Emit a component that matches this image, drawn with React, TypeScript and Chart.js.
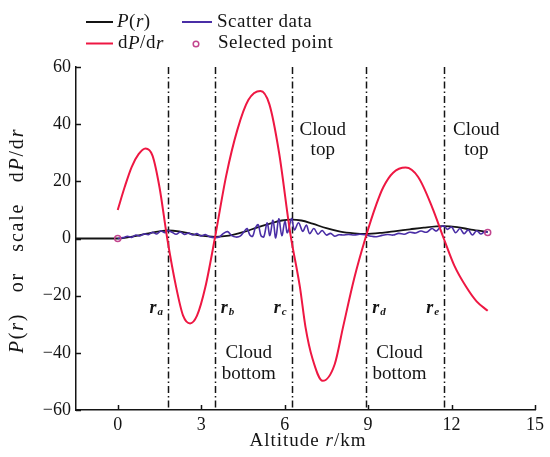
import React, { useEffect, useRef } from 'react';
import { Chart, registerables } from 'chart.js';

Chart.register(...registerables);

// ---- data ----
const xTicks = [0, 3, 6, 9, 12, 15];
const yTicks = [-60, -40, -20, 0, 20, 40, 60];

// P(r)
const pX = [-1.5, -1.0, -0.5, 0, 0.4, 0.8, 1.2, 1.5, 1.8, 2.2, 2.6, 3.0, 3.5, 4.0, 4.5, 5.0, 5.5, 5.9, 6.25, 6.6, 7.0, 7.5, 8.0, 8.5, 8.9, 9.5, 10.0, 10.5, 11.0, 11.7, 12.2, 12.7, 13.3];
const pY = [0, 0, 0, 0, 0.5, 1.2, 2.0, 2.5, 2.8, 2.5, 1.7, 1.0, 0.6, 1.0, 2.2, 3.8, 5.3, 6.3, 6.6, 6.3, 5.2, 3.6, 2.4, 1.8, 1.6, 2.0, 2.6, 3.2, 3.8, 4.3, 4.0, 3.1, 2.3];

// dP/dr (scaled)
const dX = [0, 0.25, 0.5, 0.75, 1.0, 1.25, 1.5, 1.78, 2.1, 2.35, 2.6, 2.85, 3.15, 3.49, 3.9, 4.3, 4.7, 5.13, 5.45, 5.8, 6.2, 6.55, 6.75, 7.0, 7.37, 7.8, 8.1, 8.5, 8.9, 9.3, 9.55, 9.9, 10.35, 10.8, 11.3, 11.72, 12.1, 12.53, 12.9, 13.3];
const dY = [10, 18, 25, 29.5, 31.5, 29, 18, 0, -17, -27, -29.7, -27, -17, 0, 22, 38, 48.5, 51.6, 47, 30, 2, -17, -31, -42, -49.8, -44, -31, -14, 0, 12, 18, 23, 24.8, 21.5, 11, 0, -9.5, -17, -22, -25.3];

// Scatter data
const sX = [0.0, 0.2, 0.35, 0.5, 0.65, 0.8, 0.95, 1.1, 1.25, 1.4, 1.55, 1.7, 1.8, 1.95, 2.1, 2.25, 2.4, 2.55, 2.7, 2.85, 3.0, 3.15, 3.3, 3.5, 3.65, 3.8, 3.95, 4.1, 4.25, 4.4, 4.55, 4.65, 4.75, 4.85, 4.95, 5.05, 5.15, 5.25, 5.37, 5.47, 5.58, 5.68, 5.79, 5.9, 6.01, 6.1, 6.25, 6.35, 6.5, 6.65, 6.78, 6.9, 7.05, 7.2, 7.35, 7.5, 7.65, 7.8, 7.95, 8.1, 8.3, 8.5, 8.7, 8.9, 9.1, 9.3, 9.5, 9.7, 9.9, 10.1, 10.3, 10.5, 10.7, 10.9, 11.1, 11.3, 11.45, 11.6, 11.73, 11.85, 12.0, 12.15, 12.3, 12.45, 12.6, 12.75, 12.9, 13.05, 13.2, 13.3];
const sY = [0, 0.3, 0.8, 0.4, 1.2, 0.9, 1.6, 1.3, 2.2, 1.6, 2.6, 2.0, 2.8, 2.2, 1.5, 2.3, 1.4, 1.9, 1.2, 1.7, 0.9, 1.4, 0.6, 0.3, 0.5, 1.8, 2.4, 1.0, 0.5, 0.8, 2.5, 3.5, 1.2, 0.8, 3.8, 4.8, 1.0, 0.6, 5.5, 1.0, 6.4, 0.2, 6.9, 1.0, 6.0, 2.0, 7.0, 3.0, 5.5, 2.5, 4.7, 1.7, 3.5, 1.5, 2.8, 1.2, 1.8, 0.8, 1.3, 1.2, 1.4, 1.2, 1.5, 1.3, 0.8, 0.6, 1.1, 1.4, 1.2, 1.8, 1.5, 2.2, 1.9, 2.6, 2.2, 3.5, 2.6, 4.0, 4.4, 3.2, 4.0, 2.0, 3.5, 1.7, 3.0, 1.2, 2.7, 1.6, 2.4, 2.1];

// Selected points
const selX = [0, 13.3];
const selY = [0, 2.1];

// Boundaries r_a ... r_e
const boundaryX = [1.81, 3.49, 6.25, 8.93, 11.73];
const boundarySub = ['a', 'b', 'c', 'd', 'e'];
const boundaryLabelY = -24.4;

// Region labels
const regionLine1 = ['Cloud', 'Cloud', 'Cloud', 'Cloud'];
const regionLine2 = ['bottom', 'top', 'bottom', 'top'];
const regionX = [4.71, 7.37, 10.13, 12.89];
const regionY = [-40.1, 38.1, -40.1, 38.1];

const SERIF = '"Liberation Serif", "Times New Roman", Times, serif';
const RED = '#ee1742';
const PURPLE = '#4a2ea6';
const BLACK = '#141414';
const MAGENTA = '#c2458e';

type Run = [string, string];

function runsWidth(ctx: CanvasRenderingContext2D, runs: Run[]) {
  let w = 0;
  for (const [t, f] of runs) {
    ctx.font = f;
    w += ctx.measureText(t).width;
  }
  return w;
}

function drawRuns(ctx: CanvasRenderingContext2D, runs: Run[], x: number, y: number, center: boolean) {
  let cx = center ? x - runsWidth(ctx, runs) / 2 : x;
  ctx.textAlign = 'left';
  for (const [t, f] of runs) {
    ctx.font = f;
    ctx.fillText(t, cx, y);
    cx += ctx.measureText(t).width;
  }
}

function setSpacing(ctx: any, v: string) {
  if ('letterSpacing' in ctx) ctx.letterSpacing = v;
}

const overlay = {
  id: 'overlay',
  beforeDatasetsDraw(chart: any) {
    const { ctx, chartArea, scales } = chart;
    const xs = scales.x;
    ctx.save();
    ctx.strokeStyle = BLACK;
    ctx.lineWidth = 1.5;
    ctx.setLineDash([7, 3, 1.5, 3]);
    for (const b of boundaryX) {
      const px = Math.round(xs.getPixelForValue(b)) + 0.5;
      ctx.beginPath();
      ctx.moveTo(px, chartArea.top);
      ctx.lineTo(px, chartArea.bottom);
      ctx.stroke();
    }
    ctx.restore();
  },
  afterDraw(chart: any) {
    const { ctx, chartArea, scales } = chart;
    const xs = scales.x;
    const ys = scales.y;
    ctx.save();
    ctx.fillStyle = BLACK;
    ctx.strokeStyle = BLACK;
    ctx.lineWidth = 1.5;
    ctx.setLineDash([]);
    // inward tick marks
    for (const v of xTicks) {
      const px = Math.round(xs.getPixelForValue(v)) + 0.5;
      ctx.beginPath();
      ctx.moveTo(px, chartArea.bottom);
      ctx.lineTo(px, chartArea.bottom - 5);
      ctx.stroke();
    }
    for (const v of yTicks) {
      const py = Math.round(ys.getPixelForValue(v)) + 0.5;
      ctx.beginPath();
      ctx.moveTo(chartArea.left, py);
      ctx.lineTo(chartArea.left + 5, py);
      ctx.stroke();
    }

    // boundary labels r_a .. r_e
    ctx.textBaseline = 'middle';
    const ly = ys.getPixelForValue(boundaryLabelY);
    boundarySub.forEach((s, i) => {
      const px = xs.getPixelForValue(boundaryX[i]);
      const left = i % 2 === 0;
      ctx.font = `bold italic 18px ${SERIF}`;
      const rw = ctx.measureText('r').width;
      ctx.font = `bold italic 11px ${SERIF}`;
      const sw = ctx.measureText(s).width;
      const total = rw + sw + 1;
      const x0 = left ? px - 5 - total : px + 6;
      ctx.font = `bold italic 18px ${SERIF}`;
      ctx.textAlign = 'left';
      ctx.fillText('r', x0, ly);
      ctx.font = `bold italic 11px ${SERIF}`;
      ctx.fillText(s, x0 + rw + 1, ly + 4);
    });

    // region labels
    ctx.textAlign = 'center';
    ctx.font = `19px ${SERIF}`;
    regionLine1.forEach((t, i) => {
      const px = xs.getPixelForValue(regionX[i]);
      const py = ys.getPixelForValue(regionY[i]);
      ctx.fillText(t, px, py);
      ctx.fillText(regionLine2[i], px, py + 20.5);
    });

    // legend
    ctx.lineWidth = 2;
    ctx.strokeStyle = BLACK;
    ctx.beginPath(); ctx.moveTo(86, 22); ctx.lineTo(113, 22); ctx.stroke();
    ctx.strokeStyle = RED;
    ctx.beginPath(); ctx.moveTo(86, 43.5); ctx.lineTo(113, 43.5); ctx.stroke();
    ctx.strokeStyle = PURPLE;
    ctx.beginPath(); ctx.moveTo(182, 22); ctx.lineTo(212, 22); ctx.stroke();
    ctx.strokeStyle = MAGENTA;
    ctx.lineWidth = 1.5;
    ctx.beginPath(); ctx.arc(196, 44, 2.8, 0, Math.PI * 2); ctx.stroke();

    const N = `19px ${SERIF}`;
    const I = `italic 19px ${SERIF}`;
    ctx.fillStyle = BLACK;
    ctx.textBaseline = 'middle';
    setSpacing(ctx, '0.5px');
    drawRuns(ctx, [['P', I], ['(', N], ['r', I], [')', N]], 117, 22, false);
    drawRuns(ctx, [['d', N], ['P', I], ['/d', N], ['r', I]], 118, 43.5, false);
    drawRuns(ctx, [['Scatter data', N]], 217, 22, false);
    drawRuns(ctx, [['Selected point', N]], 218, 43.5, false);

    // x title
    setSpacing(ctx, '1px');
    drawRuns(ctx, [['Altitude ', `19px ${SERIF}`], ['r', `italic 19px ${SERIF}`], ['/km', `19px ${SERIF}`]], 308, 441, true);

    // y title
    setSpacing(ctx, '1.8px');
    ctx.translate(18, (chartArea.top + chartArea.bottom) / 2 + 2);
    ctx.rotate(-Math.PI / 2);
    const N2 = `20px ${SERIF}`;
    const I2 = `italic 20px ${SERIF}`;
    drawRuns(ctx, [['P', I2], ['(', N2], ['r', I2], [')   or   scale   d', N2], ['P', I2], ['/d', N2], ['r', I2]], 0, 0, true);
    ctx.restore();
  },
};

export default function App() {
  const ref = useRef<HTMLCanvasElement | null>(null);

  useEffect(() => {
    if (!ref.current) return;
    const toPts = (xs: number[], ys: number[]) => xs.map((x, i) => ({ x, y: ys[i] }));
    const chart = new Chart(ref.current, {
      type: 'line',
      data: {
        datasets: [
          {
            label: 'Selected point',
            data: toPts(selX, selY),
            showLine: false,
            pointRadius: 3,
            pointBorderWidth: 1.5,
            pointBorderColor: MAGENTA,
            pointBackgroundColor: 'rgba(255,255,255,0)',
            order: 0,
          },
          {
            label: 'dP/dr',
            data: toPts(dX, dY),
            borderColor: RED,
            borderWidth: 2,
            pointRadius: 0,
            cubicInterpolationMode: 'monotone',
            order: 1,
          },
          {
            label: 'Scatter data',
            data: toPts(sX, sY),
            borderColor: PURPLE,
            borderWidth: 1.6,
            pointRadius: 0,
            tension: 0.35,
            order: 2,
          },
          {
            label: 'P(r)',
            data: toPts(pX, pY),
            borderColor: BLACK,
            borderWidth: 1.8,
            pointRadius: 0,
            cubicInterpolationMode: 'monotone',
            order: 3,
          },
        ],
      },
      options: {
        animation: false,
        responsive: false,
        devicePixelRatio: 1,
        layout: { padding: { left: 0, top: 67, right: 15, bottom: 0 } },
        plugins: { legend: { display: false }, tooltip: { enabled: false } },
        scales: {
          x: {
            type: 'linear',
            min: -1.5,
            max: 15,
            afterBuildTicks: (s: any) => { s.ticks = xTicks.map((v) => ({ value: v })); },
            afterFit: (s: any) => { s.height = 47; },
            grid: { display: false, drawTicks: false },
            border: { display: true, color: BLACK, width: 1.5 },
            ticks: {
              color: BLACK,
              padding: 4,
              maxRotation: 0,
              font: { family: SERIF, size: 18 },
              callback: (v: any) => String(v),
            },
          },
          y: {
            type: 'linear',
            min: -60,
            max: 60,
            afterBuildTicks: (s: any) => { s.ticks = yTicks.map((v) => ({ value: v })); },
            afterFit: (s: any) => { s.width = 76; },
            grid: { display: false, drawTicks: false },
            border: { display: true, color: BLACK, width: 1.5 },
            ticks: {
              color: BLACK,
              padding: 5,
              font: { family: SERIF, size: 18 },
              callback: (v: any) => (v < 0 ? '\u2212' + Math.abs(v) : String(v)),
            },
          },
        },
      },
      plugins: [overlay],
    } as any);
    return () => chart.destroy();
  }, []);

  return (
    <div style={{ position: 'fixed', left: 0, top: 0, width: 550, height: 457, background: '#fff' }}>
      <canvas ref={ref} width={550} height={457} style={{ display: 'block' }} />
    </div>
  );
}
